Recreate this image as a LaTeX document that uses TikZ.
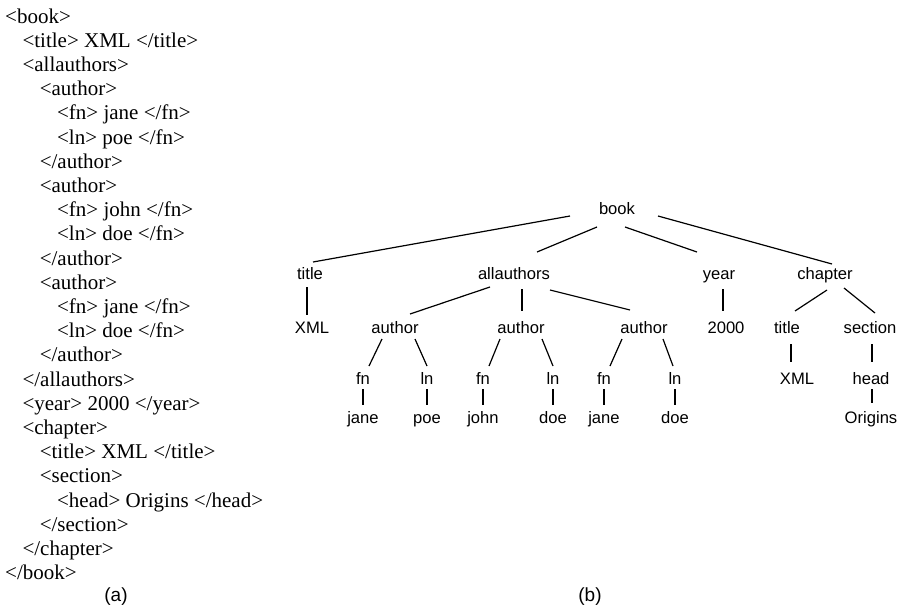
\documentclass[tikz,border=0pt]{standalone}
\usepackage{fontspec}
\setmainfont{Liberation Serif}
\newfontfamily\arialfont{Liberation Sans}
\usetikzlibrary{calc}
\newcommand\xmlrow[4]{\node[xmlline] (#1) at ({5+17.3*#2},{23+24.2*#3}) {#4};}
\tikzset{
  xmlline/.style={anchor=base west, inner sep=0pt, font=\fontsize{21}{24}\selectfont},
  treenode/.style={anchor=base, inner sep=0pt, font=\arialfont\fontsize{16.6}{20}\selectfont},
  caplabel/.style={anchor=base, inner sep=0pt, font=\arialfont\fontsize{19}{22}\selectfont},
  thinedge/.style={line width=1.2pt},
  thickedge/.style={line width=2.4pt},
}
\begin{document}
\begin{tikzpicture}[x=1pt,y=-1pt]
\useasboundingbox (0,0) rectangle (905,606);
% (a) XML text
\xmlrow{r0}{0}{0}{<book>}
\xmlrow{r1}{1}{1}{<title> XML </title>}
\xmlrow{r2}{1}{2}{<allauthors>}
\xmlrow{r3}{2}{3}{<author>}
\xmlrow{r4}{3}{4}{<fn> jane </fn>}
\xmlrow{r5}{3}{5}{<ln> poe </fn>}
\xmlrow{r6}{2}{6}{</author>}
\xmlrow{r7}{2}{7}{<author>}
\xmlrow{r8}{3}{8}{<fn> john </fn>}
\xmlrow{r9}{3}{9}{<ln> doe </fn>}
\xmlrow{r10}{2}{10}{</author>}
\xmlrow{r11}{2}{11}{<author>}
\xmlrow{r12}{3}{12}{<fn> jane </fn>}
\xmlrow{r13}{3}{13}{<ln> doe </fn>}
\xmlrow{r14}{2}{14}{</author>}
\xmlrow{r15}{1}{15}{</allauthors>}
\xmlrow{r16}{1}{16}{<year> 2000 </year>}
\xmlrow{r17}{1}{17}{<chapter>}
\xmlrow{r18}{2}{18}{<title> XML </title>}
\xmlrow{r19}{2}{19}{<section>}
\xmlrow{r20}{3}{20}{<head> Origins </head>}
\xmlrow{r21}{2}{21}{</section>}
\xmlrow{r22}{1}{22}{</chapter>}
\xmlrow{r23}{0}{23}{</book>}
\node[caplabel] (capa) at (116,601) {(a)};
\node[caplabel] (capb) at (590,601) {(b)};
% (b) tree
\node[treenode] (book) at (617,214) {book};
\node[treenode] (title) at (310,279) {title};
\node[treenode] (allauthors) at (514,279) {allauthors};
\node[treenode] (year) at (719,279) {year};
\node[treenode] (chapter) at (825,279) {chapter};
\node[treenode] (xmla) at (312,333) {XML};
\node[treenode] (authora) at (395,333) {author};
\node[treenode] (authorb) at (521,333) {author};
\node[treenode] (authorc) at (644,333) {author};
\node[treenode] (twok) at (726,333) {2000};
\node[treenode] (titleb) at (787,333) {title};
\node[treenode] (section) at (870,333) {section};
\node[treenode] (fna) at (363,384) {fn};
\node[treenode] (lna) at (427,384) {ln};
\node[treenode] (fnb) at (483,384) {fn};
\node[treenode] (lnb) at (553,384) {ln};
\node[treenode] (fnc) at (604,384) {fn};
\node[treenode] (lnc) at (675,384) {ln};
\node[treenode] (xmlb) at (797,384) {XML};
\node[treenode] (head) at (871,384) {head};
\node[treenode] (janea) at (363,423) {jane};
\node[treenode] (poe) at (427,423) {poe};
\node[treenode] (john) at (483,423) {john};
\node[treenode] (doeb) at (553,423) {doe};
\node[treenode] (janec) at (604,423) {jane};
\node[treenode] (doec) at (675,423) {doe};
\node[treenode] (origins) at (871,423) {Origins};
% edges
\draw[thinedge] ($(book.base)+(-47,2)$) -- ($(title.base)+(3,-17)$);
\draw[thinedge] ($(book.base)+(-20,13)$) -- ($(allauthors.base)+(23,-27)$);
\draw[thinedge] ($(book.base)+(8,13)$) -- ($(year.base)+(-22,-27)$);
\draw[thinedge] ($(book.base)+(41,2)$) -- ($(chapter.base)+(7,-15)$);
\draw[thickedge] ($(title.base)+(-3,8)$) -- ($(xmla.base)+(-5,-18)$);
\draw[thinedge] ($(allauthors.base)+(-24,8)$) -- ($(authora.base)+(15,-19)$);
\draw[thickedge] ($(allauthors.base)+(8,10)$) -- ($(authorb.base)+(1,-22)$);
\draw[thinedge] ($(allauthors.base)+(36,11)$) -- ($(authorc.base)+(-14,-23)$);
\draw[thickedge] ($(year.base)+(4,10)$) -- ($(twok.base)+(-3,-22)$);
\draw[thinedge] ($(chapter.base)+(2,11)$) -- ($(titleb.base)+(8,-22)$);
\draw[thinedge] ($(chapter.base)+(19,9)$) -- ($(section.base)+(5,-20)$);
\draw[thinedge] ($(authora.base)+(-13,6)$) -- ($(fna.base)+(6,-18)$);
\draw[thinedge] ($(authora.base)+(20,6)$) -- ($(lna.base)+(0,-18)$);
\draw[thinedge] ($(authorb.base)+(-21,6)$) -- ($(fnb.base)+(6,-18)$);
\draw[thinedge] ($(authorb.base)+(21,6)$) -- ($(lnb.base)+(0,-18)$);
\draw[thinedge] ($(authorc.base)+(-22,6)$) -- ($(fnc.base)+(6,-18)$);
\draw[thinedge] ($(authorc.base)+(19,6)$) -- ($(lnc.base)+(-2,-18)$);
\draw[thickedge] ($(titleb.base)+(4,11)$) -- ($(xmlb.base)+(-6,-22)$);
\draw[thickedge] ($(section.base)+(2,11)$) -- ($(head.base)+(1,-22)$);
\draw[thickedge] ($(fna.base)+(0,5)$) -- ($(janea.base)+(0,-18)$);
\draw[thickedge] ($(lna.base)+(0,5)$) -- ($(poe.base)+(0,-18)$);
\draw[thickedge] ($(fnb.base)+(0,5)$) -- ($(john.base)+(0,-18)$);
\draw[thickedge] ($(lnb.base)+(0,5)$) -- ($(doeb.base)+(0,-18)$);
\draw[thickedge] ($(fnc.base)+(0,5)$) -- ($(janec.base)+(0,-18)$);
\draw[thickedge] ($(lnc.base)+(0,5)$) -- ($(doec.base)+(0,-18)$);
\draw[thickedge] ($(head.base)+(1,5)$) -- ($(origins.base)+(1,-20)$);
\end{tikzpicture}
\end{document}
